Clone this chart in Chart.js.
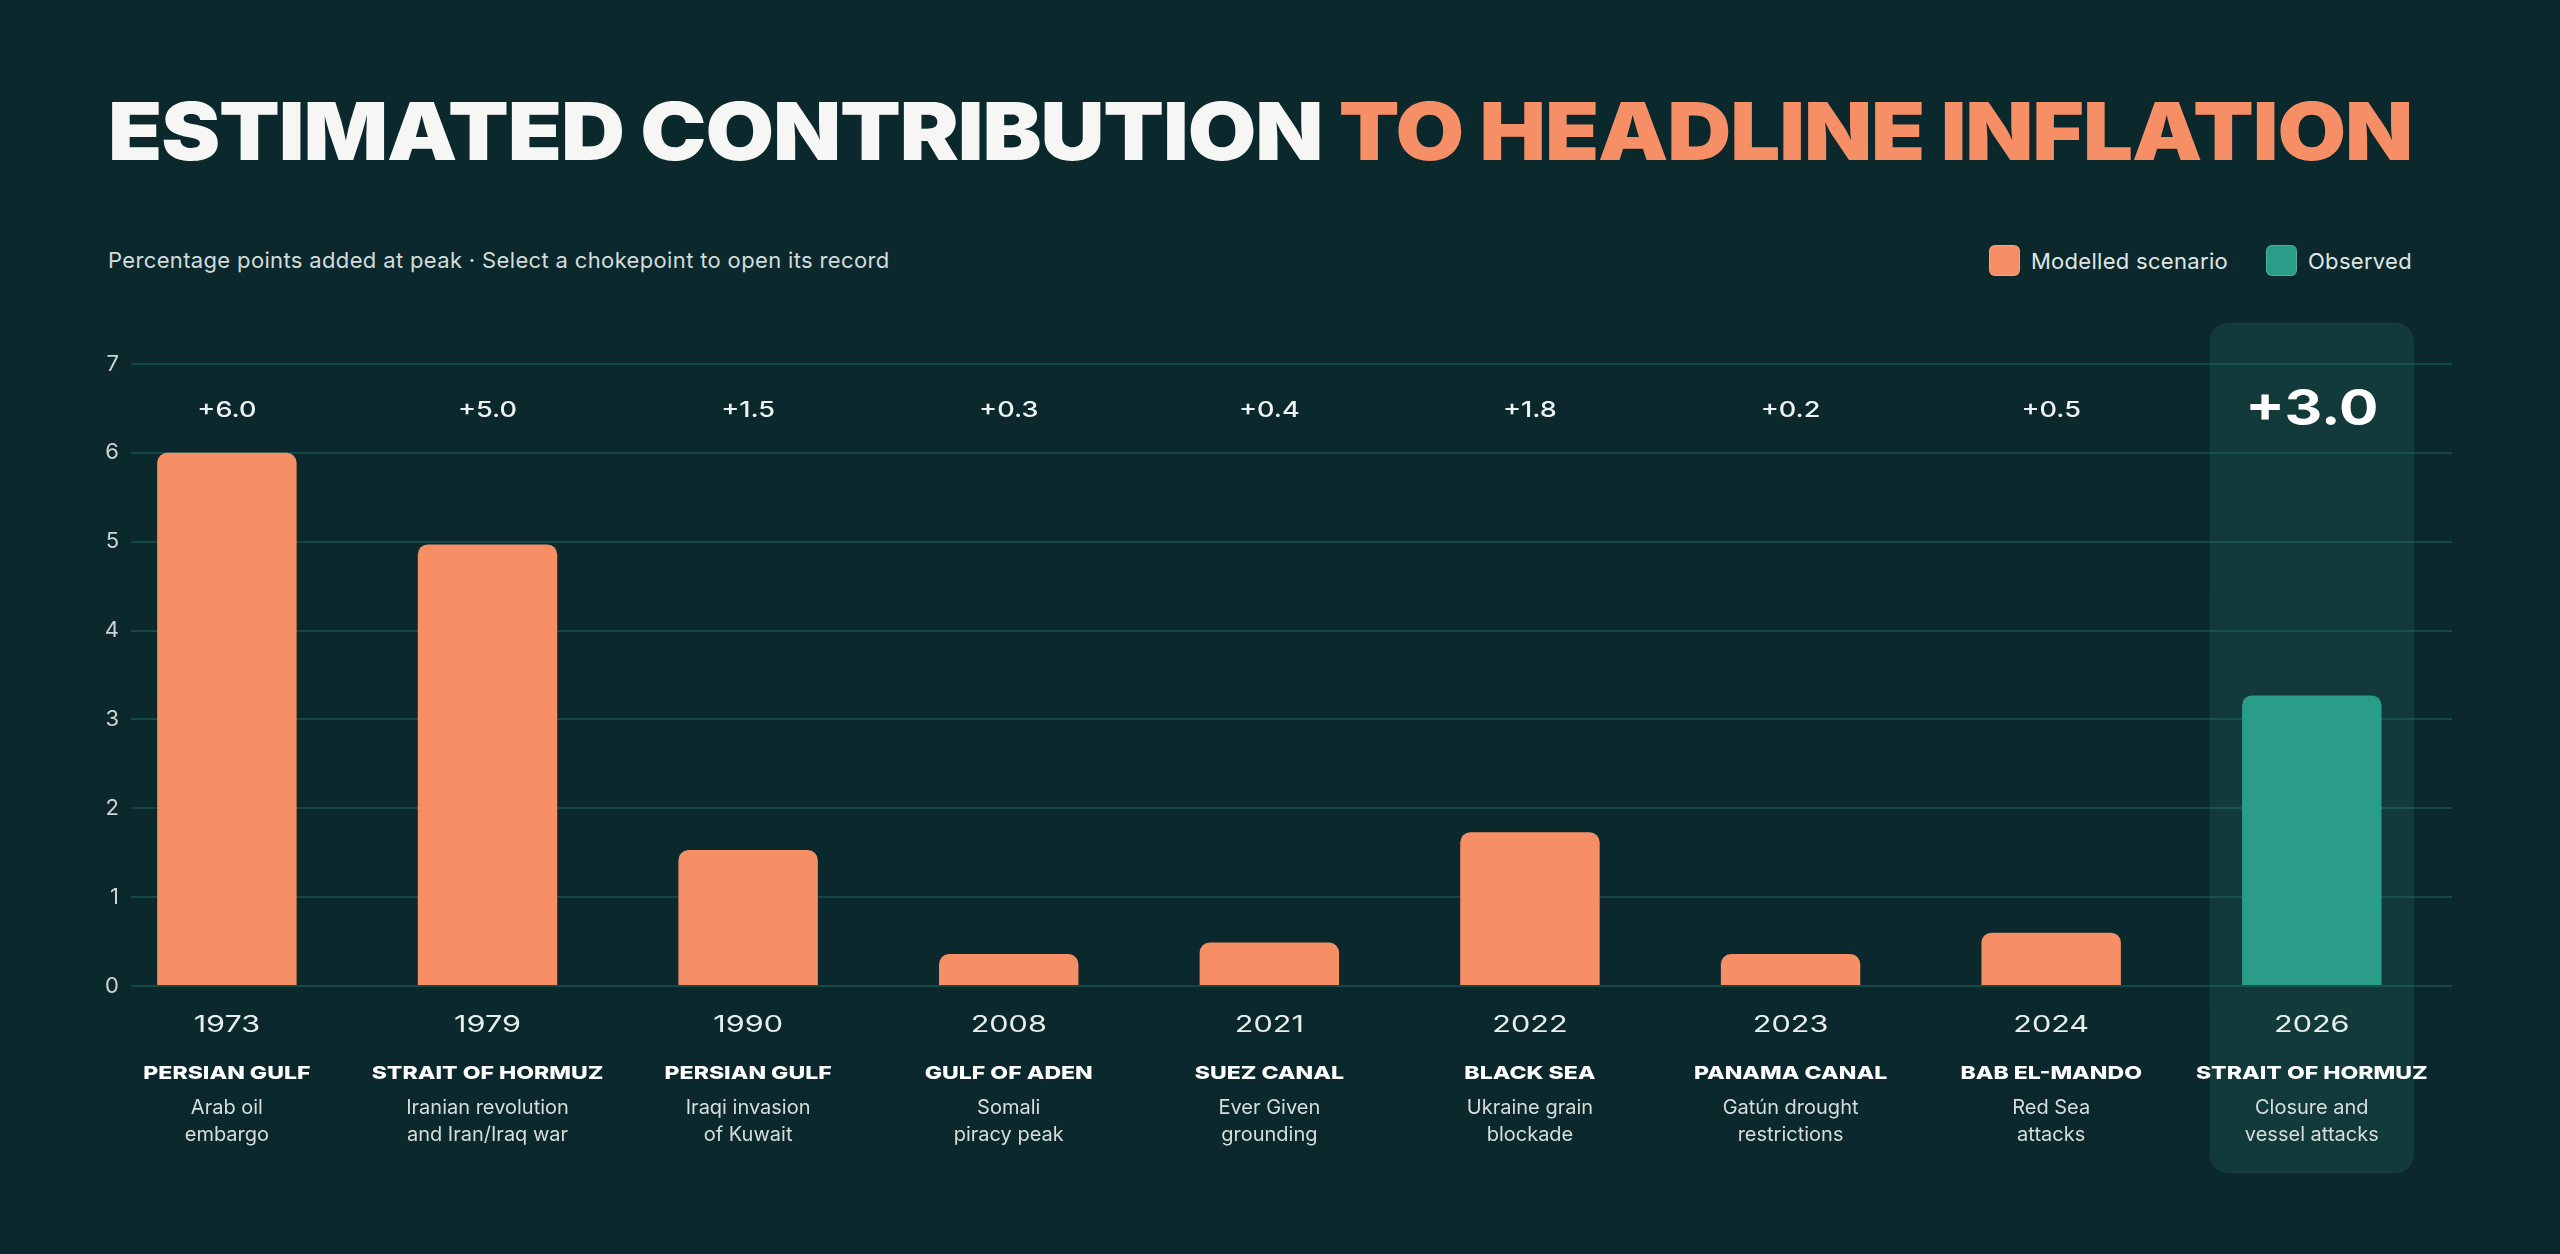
<!DOCTYPE html>
<html>
<head>
<meta charset="utf-8">
<script src="https://cdn.jsdelivr.net/npm/chart.js@4"></script>
<style>
  html, body { margin: 0; padding: 0; }
  body {
    width: 2560px; height: 1254px; overflow: hidden;
    background: #0b292c;
    font-family: Inter, "Noto Sans", sans-serif;
    position: relative;
  }
  #title {
    position: absolute; left: 108px; top: 91px;
    font-size: 80px; line-height: 80px; font-weight: 900;
    white-space: nowrap; color: #f6f7f5;
    transform-origin: left top; letter-spacing: -1px;
  }
  #title .accent { color: #f78f66; }
  #subtitle {
    position: absolute; left: 108px; top: 247px;
    font-size: 22px; line-height: 26px; color: #d3dcdb; letter-spacing: 0.35px;
  }
  #legend {
    position: absolute; right: 148px; top: 245px;
    display: flex; align-items: center;
    font-size: 22px; color: #dfe6e5; letter-spacing: 0.3px;
  }
  #legend .item { display: flex; align-items: center; margin-left: 38px; }
  #legend .sw {
    width: 31px; height: 31px; border-radius: 6px; margin-right: 11px;
    box-sizing: border-box; border: 1px solid rgba(255,255,255,0.18);
  }
  #chart { position: absolute; left: 0; top: 0; }
</style>
</head>
<body>
<div id="title">ESTIMATED CONTRIBUTION <span class="accent">TO HEADLINE INFLATION</span></div>
<div id="subtitle">Percentage points added at peak · Select a chokepoint to open its record</div>
<div id="legend">
  <div class="item"><div class="sw" style="background:#f78f66"></div>Modelled scenario</div>
  <div class="item"><div class="sw" style="background:#2a9d89"></div>Observed</div>
</div>
<canvas id="chart" width="2560" height="1254"></canvas>
<script>
const years = ['1973', '1979', '1990', '2008', '2021', '2022', '2023', '2024', '2026'];
const regions = ['PERSIAN GULF', 'STRAIT OF HORMUZ', 'PERSIAN GULF', 'GULF OF ADEN', 'SUEZ CANAL',
  'BLACK SEA', 'PANAMA CANAL', 'BAB EL-MANDO', 'STRAIT OF HORMUZ'];
const descriptions = [
  ['Arab oil', 'embargo'],
  ['Iranian revolution', 'and Iran/Iraq war'],
  ['Iraqi invasion', 'of Kuwait'],
  ['Somali', 'piracy peak'],
  ['Ever Given', 'grounding'],
  ['Ukraine grain', 'blockade'],
  ['Gatún drought', 'restrictions'],
  ['Red Sea', 'attacks'],
  ['Closure and', 'vessel attacks'],
];
const barValues = [6.0, 4.97, 1.53, 0.36, 0.49, 1.73, 0.36, 0.60, 3.27];
const valueLabels = ['+6.0', '+5.0', '+1.5', '+0.3', '+0.4', '+1.8', '+0.2', '+0.5', '+3.0'];
const observed = [false, false, false, false, false, false, false, false, true];
const yTicks = [0, 1, 2, 3, 4, 5, 6, 7];

const ORANGE = '#f78f66';
const TEAL = '#2a9d89';

// fit the title to the reference width
(function () {
  const t = document.getElementById('title');
  const w = t.getBoundingClientRect().width;
  t.style.transform = 'scaleX(' + (2304 / w) + ')';
})();

// text stretched horizontally, to mimic the extended display face
function wideText(ctx, text, x, y, sx) {
  ctx.save();
  ctx.translate(x, y);
  ctx.scale(sx, 1);
  ctx.fillText(text, 0, 0);
  ctx.restore();
}

function roundRect(ctx, x, y, w, h, r) {
  ctx.beginPath();
  ctx.moveTo(x + r, y);
  ctx.arcTo(x + w, y, x + w, y + h, r);
  ctx.arcTo(x + w, y + h, x, y + h, r);
  ctx.arcTo(x, y + h, x, y, r);
  ctx.arcTo(x, y, x + w, y, r);
  ctx.closePath();
}

const highlightBox = {
  id: 'highlightBox',
  beforeDraw(chart) {
    const { ctx, chartArea, scales: { x } } = chart;
    const step = x.getPixelForValue(1) - x.getPixelForValue(0);
    ctx.save();
    observed.forEach((obs, i) => {
      if (!obs) return;
      const cx = x.getPixelForValue(i);
      const w = step * 0.78;
      roundRect(ctx, cx - w / 2, chartArea.top - 41, w, 850, 18);
      ctx.fillStyle = '#123a3a';
      ctx.fill();
      ctx.strokeStyle = 'rgba(255,255,255,0.04)';
      ctx.lineWidth = 1;
      ctx.stroke();
    });
    ctx.restore();
  }
};

const labelsPlugin = {
  id: 'labelsPlugin',
  afterDatasetsDraw(chart) {
    const { ctx, chartArea, scales: { x } } = chart;
    ctx.save();
    ctx.textAlign = 'center';
    ctx.textBaseline = 'alphabetic';
    years.forEach((yr, i) => {
      const cx = x.getPixelForValue(i);
      // value above the bars
      if (observed[i]) {
        ctx.fillStyle = '#ffffff';
        ctx.font = '700 50px Inter';
        wideText(ctx, valueLabels[i], cx, chartArea.top + 61, 1.17);
      } else {
        ctx.fillStyle = '#eef2f1';
        ctx.font = '500 22px Inter';
        wideText(ctx, valueLabels[i], cx, chartArea.top + 52.5, 1.23);
      }
      // year
      ctx.fillStyle = '#e8eeed';
      ctx.font = '400 23px Inter';
      wideText(ctx, yr, cx, chartArea.bottom + 46, 1.33);
      // chokepoint
      ctx.fillStyle = '#ffffff';
      ctx.font = '800 18px Inter';
      wideText(ctx, regions[i], cx, chartArea.bottom + 92.5, 1.28);
      // description
      ctx.fillStyle = '#d5dedd';
      ctx.font = '400 20px Inter';
      descriptions[i].forEach((line, j) => {
        ctx.fillText(line, cx, chartArea.bottom + 128 + j * 27);
      });
    });
    ctx.restore();
  }
};

new Chart(document.getElementById('chart'), {
  type: 'bar',
  data: {
    datasets: [{
      data: barValues.map((v, i) => ({ x: i, y: v })),
      backgroundColor: observed.map(o => (o ? TEAL : ORANGE)),
      borderRadius: 10,
      borderSkipped: 'bottom',
      categoryPercentage: 1,
      barPercentage: 0.535,
    }],
  },
  options: {
    responsive: false,
    devicePixelRatio: 1,
    animation: false,
    layout: { padding: { left: 0, right: 108, top: 364, bottom: 268 } },
    plugins: { legend: { display: false }, tooltip: { enabled: false } },
    scales: {
      x: {
        type: 'linear',
        display: false,
        offset: false,
        min: -0.368,
        max: 8.538,
        grid: { offset: false },
        ticks: { stepSize: 1, includeBounds: false },
      },
      y: {
        min: yTicks[0],
        max: yTicks[yTicks.length - 1],
        afterFit(scale) { scale.width = 131; },
        border: { display: false },
        grid: { color: 'rgba(32,140,128,0.33)', lineWidth: 2, drawTicks: false },
        ticks: {
          stepSize: 1,
          padding: 12,
          color: '#cbd5d4',
          font: { family: 'Inter', size: 22 },
        },
      },
    },
  },
  plugins: [highlightBox, labelsPlugin],
});
</script>
</body>
</html>
